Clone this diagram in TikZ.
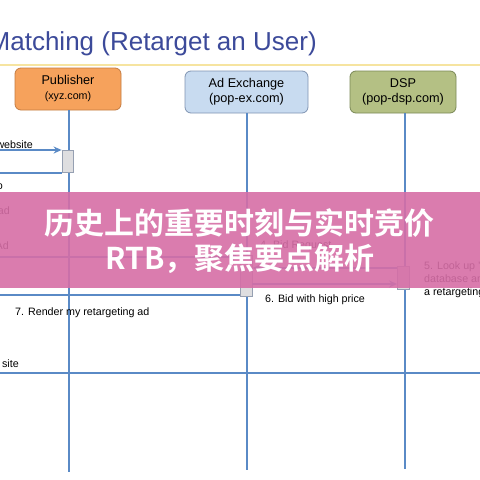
\documentclass[tikz,border=0pt]{standalone}
\usepackage{fontspec}
\setmainfont{Liberation Sans}
\newfontfamily\cjkbold[BoldFont={Noto Sans CJK SC Bold}]{Noto Sans CJK SC}
\usetikzlibrary{arrows.meta}
\definecolor{titleblue}{RGB}{60,74,154}
\definecolor{rule}{RGB}{246,228,160}
\definecolor{pubfill}{RGB}{246,162,92}
\definecolor{pubdraw}{RGB}{196,124,66}
\definecolor{exfill}{RGB}{200,219,240}
\definecolor{exdraw}{RGB}{128,148,178}
\definecolor{dspfill}{RGB}{180,192,132}
\definecolor{dspdraw}{RGB}{122,136,86}
\definecolor{lineblue}{RGB}{90,138,198}
\definecolor{actfill}{RGB}{222,222,224}
\definecolor{actdraw}{RGB}{150,160,178}
\definecolor{banner}{RGB}{214,110,166}
\tikzset{
  party/.style={rounded corners=6pt, minimum width=106pt, minimum height=42pt,
    align=center, font=\fontsize{12.7}{15}\selectfont, line width=0.8pt, inner sep=0pt},
  life/.style={draw=lineblue, line width=1.8pt},
  msg/.style={draw=lineblue, line width=1.8pt, -{Stealth[length=8pt,width=7pt]}},
  plain/.style={draw=lineblue, line width=1.8pt},
  act/.style={fill=actfill, draw=actdraw, line width=0.8pt, minimum width=11pt, inner sep=0pt},
  lbl/.style={font=\fontsize{10.7}{13}\selectfont, text=black, inner sep=0pt},
  bannertext/.style={text=white, font=\cjkbold\bfseries\fontsize{30}{36}\selectfont, inner sep=0pt}
}
\begin{document}
\begin{tikzpicture}[x=1pt,y=-1pt]
\useasboundingbox (0,0) rectangle (480,480);
\clip (0,0) rectangle (480,480);
\fill[white] (0,0) rectangle (480,480);
% title
\node[anchor=base west, inner sep=0pt, text=titleblue, font=\fontsize{26}{30}\selectfont] (title) at (-11.5,50) {Matching (Retarget an User)};
\coordinate (ruleL) at (0,65);
\coordinate (ruleR) at (480,65);
\draw[rule, line width=1.6pt] (ruleL) -- (ruleR);
% parties
\node[party, fill=pubfill, draw=pubdraw] (pub) at (68,89) {Publisher\\\fontsize{10.7}{13}\selectfont(xyz.com)};
\node[party, fill=exfill, draw=exdraw, minimum width=123pt] (ex) at (246.5,92) {Ad Exchange\\(pop-ex.com)};
\node[party, fill=dspfill, draw=dspdraw] (dsp) at (403,92) {DSP\\(pop-dsp.com)};
% lifeline ends
\coordinate (pubend) at (69,472);
\coordinate (exend) at (247,470);
\coordinate (dspend) at (405,469);
\draw[life] (pub.south -| pubend) -- (pubend);
\draw[life] (ex.south -| exend) -- (exend);
\draw[life] (dsp.south -| dspend) -- (dspend);
% activations
\node[act, minimum height=22pt] (pubact) at (67.5,161.5) {};
\node[act, minimum height=41pt, minimum width=12pt] (exact) at (246,275.5) {};
\node[act, minimum height=23pt, minimum width=12pt] (dspact) at (403.5,277.5) {};
% off-screen user / target coordinates
\coordinate (u1) at (-20,150);
\coordinate (u2) at (-20,173);
\coordinate (u3) at (-20,257);
\coordinate (u7) at (-20,295);
\coordinate (u8) at (-20,373);
\coordinate (t8) at (500,373);
% messages
\draw[msg] (u1) -- (u1 -| pubact.west);
\draw[msg] (u2 -| pubact.west) -- (u2);
\draw[msg] (u3) -- (u3 -| exact.west);
\draw[msg] ([yshift=-8.5pt]exact.east) -- ([yshift=-8.5pt]exact.east -| dspact.west);
\draw[msg] ([yshift=9.5pt]dspact.west) -- ([yshift=9.5pt]dspact.west -| exact.east);
\draw[msg] (u7 -| exact.west) -- (u7);
\draw[msg] (u8) -- (t8);
% labels
\node[lbl, anchor=base east] (l1) at (33,148) {1. Visit website};
\node[lbl, anchor=base east] (l2) at (3,189) {2. Go};
\node[lbl, anchor=base east] (l3a) at (10,214) {3. Request ad};
\node[lbl, anchor=base east] (l3b) at (9,249) {Ad};
\node[lbl, anchor=base west] (l4) at (260,248) {4. Bid Request};
\node[lbl, anchor=base west, align=left] (l5a) at (424,269) {5. Look up 'user' in};
\node[lbl, anchor=base west] (l5b) at (424,282) {database and find};
\node[lbl, anchor=base west] (l5c) at (424,295) {a retargeting ad};
\node[lbl, anchor=base west] (l6) at (265,302) {6. Bid with high price};
\node[lbl, anchor=base west] (l7) at (15,315) {7. Render my retargeting ad};
\node[lbl, anchor=base east] (l8) at (19,367) {8. Visit advertiser's site};
% banner
\fill[banner, opacity=0.9] (-5,192) rectangle (485,288);
\node[bannertext] (b1) at (240,223) {历史上的重要时刻与实时竞价};
\node[bannertext] (b2) at (240,259) {RTB，聚焦要点解析};
\end{tikzpicture}
\end{document}
